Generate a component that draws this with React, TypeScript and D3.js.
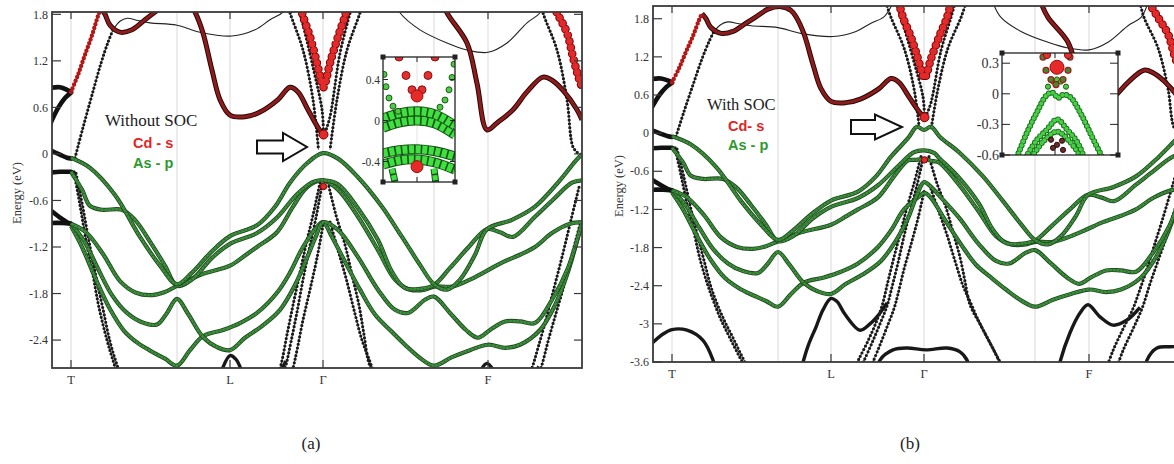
import React from 'react';
import * as d3 from 'd3';

type Pt = [number, number];
type Kind = 'green' | 'dot' | 'thin' | 'red' | 'redDot' | 'redSmall' | 'thick' | 'deep';

// k along the path (arb. units), energies in eV
const kEnd = 5.3;
const symLabels = ['T', 'L', 'Γ', 'F'];
const symK = [0.19, 1.78, 2.71, 4.36];
const gridK = [0.19, 1.25, 1.78, 2.71, 3.82, 4.36];

const ticksA = [1.8, 1.2, 0.6, 0, -0.6, -1.2, -1.8, -2.4];
const ticksB = [1.8, 1.2, 0.6, 0, -0.6, -1.2, -1.8, -2.4, -3, -3.6];

// As-p valence bands
const v1: Pt[] = [[0.19,-0.05],[0.38,-0.18],[0.63,-0.53],[0.88,-1.07],[1.08,-1.44],[1.25,-1.68],[1.40,-1.53],[1.58,-1.28],[1.78,-1.06],[2.05,-0.92],[2.23,-0.68],[2.38,-0.37],[2.55,-0.12],[2.71,0.01],[2.86,-0.06],[3.06,-0.30],[3.30,-0.68],[3.50,-1.07],[3.68,-1.43],[3.82,-1.68],[3.95,-1.75],[4.08,-1.62],[4.23,-1.30],[4.35,-0.97],[4.60,-0.85],[4.83,-0.68],[5.06,-0.37],[5.23,-0.10],[5.30,0.00]];
const v2: Pt[] = [[0.19,-0.23],[0.30,-0.46],[0.38,-0.67],[0.50,-0.72],[0.70,-0.72],[0.83,-0.85],[0.98,-1.13],[1.13,-1.44],[1.25,-1.70],[1.40,-1.62],[1.60,-1.34],[1.78,-1.16],[2.05,-1.02],[2.25,-0.82],[2.45,-0.52],[2.61,-0.36],[2.71,-0.34],[2.86,-0.39],[3.06,-0.70],[3.26,-1.11],[3.40,-1.52],[3.53,-1.73],[3.68,-1.74],[3.82,-1.69],[3.98,-1.47],[4.16,-1.21],[4.35,-0.97],[4.48,-1.01],[4.61,-1.07],[4.83,-0.81],[5.01,-0.59],[5.20,-0.37],[5.30,-0.34]];
const v3: Pt[] = [[0.19,-0.90],[0.34,-1.01],[0.51,-1.29],[0.68,-1.64],[0.84,-1.79],[1.00,-1.82],[1.13,-1.78],[1.25,-1.70],[1.48,-1.56],[1.78,-1.44],[1.93,-1.31],[2.05,-1.20],[2.25,-1.01],[2.41,-0.68],[2.55,-0.43],[2.71,-0.34],[2.86,-0.46],[3.06,-0.81],[3.26,-1.24],[3.43,-1.62],[3.58,-1.75],[3.73,-1.75],[3.82,-1.71],[4.00,-1.71],[4.18,-1.62],[4.33,-1.52],[4.50,-1.40],[4.68,-1.30],[4.83,-1.20],[5.00,-1.02],[5.18,-0.90],[5.30,-0.88]];
const v4: Pt[] = [[0.19,-0.90],[0.32,-1.12],[0.46,-1.48],[0.60,-1.82],[0.75,-2.05],[0.90,-2.17],[1.05,-2.20],[1.15,-2.05],[1.25,-1.87],[1.36,-2.06],[1.51,-2.36],[1.65,-2.49],[1.78,-2.53],[1.93,-2.37],[2.10,-2.22],[2.28,-2.01],[2.43,-1.69],[2.55,-1.34],[2.64,-1.06],[2.71,-0.88],[2.86,-0.98],[3.06,-1.33],[3.26,-1.75],[3.43,-2.01],[3.56,-2.05],[3.73,-1.88],[3.82,-1.84],[3.98,-2.05],[4.14,-2.27],[4.26,-2.37],[4.38,-2.27],[4.53,-2.16],[4.68,-2.16],[4.83,-2.18],[5.00,-1.88],[5.16,-1.47],[5.30,-0.88]];
const v5: Pt[] = [[0.19,-0.93],[0.30,-1.20],[0.44,-1.62],[0.58,-2.00],[0.72,-2.28],[0.86,-2.44],[1.00,-2.55],[1.13,-2.64],[1.25,-2.73],[1.38,-2.53],[1.51,-2.35],[1.71,-2.27],[1.88,-2.18],[2.05,-2.05],[2.25,-1.79],[2.38,-1.53],[2.51,-1.20],[2.65,-0.94],[2.71,-0.88],[2.80,-1.07],[2.93,-1.39],[3.08,-1.75],[3.23,-2.07],[3.38,-2.27],[3.53,-2.46],[3.68,-2.63],[3.82,-2.73],[4.00,-2.62],[4.18,-2.53],[4.36,-2.46],[4.53,-2.50],[4.68,-2.46],[4.88,-2.27],[5.03,-1.95],[5.15,-1.56],[5.24,-1.17],[5.30,-0.88]];

// with SOC: the same bands split near Γ
const v1Soc: Pt[] = [[2.55,-0.08],[2.64,0.10],[2.71,0.05],[2.78,0.10],[2.87,-0.06]];
const v2Soc: Pt[] = [[2.61,-0.30],[2.71,-0.27],[2.81,-0.31]];
const v3Soc: Pt[] = [[2.62,-0.42],[2.71,-0.41],[2.80,-0.44]];
const v4Soc: Pt[] = [[2.64,-0.97],[2.71,-0.77],[2.79,-0.86]];
const v5Soc: Pt[] = [[2.66,-1.00],[2.71,-0.94],[2.77,-1.00]];

// dispersive bands (black dots)
const dt1: Pt[] = [[0.22,-0.23],[0.28,-0.66],[0.34,-1.11],[0.41,-1.56],[0.47,-1.98],[0.55,-2.40],[0.60,-2.62],[0.67,-2.90],[0.74,-3.13],[0.82,-3.38],[0.90,-3.62],[0.95,-3.75]];
const dt2: Pt[] = [[0.24,-0.25],[0.31,-0.70],[0.37,-1.13],[0.44,-1.58],[0.51,-2.00],[0.58,-2.42],[0.65,-2.72],[0.72,-2.97],[0.80,-3.22],[0.88,-3.48],[0.97,-3.75]];
const dt3: Pt[] = [[0.23,-0.05],[0.31,0.34],[0.40,0.76],[0.49,1.17],[0.56,1.44],[0.61,1.60]];
const dt4: Pt[] = [[2.68,-0.37],[2.61,-0.79],[2.54,-1.17],[2.48,-1.53],[2.41,-1.95],[2.35,-2.33],[2.29,-2.72],[2.22,-3.02],[2.14,-3.30],[2.06,-3.55],[2.01,-3.72]];
const dt5: Pt[] = [[2.70,-0.40],[2.64,-0.82],[2.57,-1.24],[2.51,-1.62],[2.45,-2.04],[2.39,-2.42],[2.34,-2.72],[2.27,-3.00],[2.19,-3.30],[2.11,-3.58],[2.07,-3.72]];
const dt6: Pt[] = [[2.71,-0.92],[2.65,-1.34],[2.58,-1.75],[2.51,-2.14],[2.45,-2.53],[2.41,-2.76],[2.34,-3.05],[2.27,-3.33],[2.20,-3.60],[2.17,-3.72]];
const dt7: Pt[] = [[2.76,-0.37],[2.84,-0.79],[2.93,-1.17],[3.00,-1.56],[3.07,-1.95],[3.12,-2.33],[3.17,-2.70],[3.27,-3.00],[3.37,-3.30],[3.47,-3.60],[3.51,-3.72]];
const dt8: Pt[] = [[2.78,-0.88],[2.86,-1.24],[2.94,-1.60],[3.02,-2.01],[3.10,-2.40],[3.18,-2.68],[3.24,-2.90],[3.32,-3.15],[3.42,-3.45],[3.50,-3.72]];
const dt9: Pt[] = [[5.27,-0.43],[5.19,-0.85],[5.10,-1.33],[5.01,-1.78],[4.93,-2.18],[4.86,-2.50],[4.80,-2.76],[4.70,-3.08],[4.60,-3.42],[4.53,-3.72]];
const dt10: Pt[] = [[5.28,-0.91],[5.20,-1.30],[5.13,-1.65],[5.05,-2.01],[4.97,-2.37],[4.89,-2.76],[4.80,-3.08],[4.70,-3.42],[4.63,-3.72]];
const cOutL: Pt[] = [[2.33,2.05],[2.38,1.82],[2.51,1.34],[2.61,0.70],[2.665,0.05]];
const cOutR: Pt[] = [[3.13,2.05],[3.08,1.82],[2.95,1.34],[2.85,0.70],[2.78,0.05]];
const cInL: Pt[] = [[2.43,2.05],[2.48,1.82],[2.61,1.12],[2.70,0.57],[2.715,0.27]];
const cInR: Pt[] = [[3.02,2.05],[2.98,1.82],[2.88,1.30],[2.78,0.48],[2.73,0.27]];
const cEnd: Pt[] = [[4.87,2.05],[4.91,1.82],[5.05,1.34],[5.15,0.70],[5.21,0.09],[5.26,0.01]];

// thin conduction bands
const thin1: Pt[] = [[0.61,1.60],[0.68,1.71],[0.75,1.75],[0.86,1.72],[0.98,1.69],[1.25,1.66],[1.48,1.57],[1.80,1.52],[2.03,1.60],[2.18,1.73],[2.31,1.83],[2.40,2.05]];
const thin2: Pt[] = [[3.40,2.05],[3.48,1.82],[3.68,1.60],[3.95,1.43],[4.15,1.34],[4.36,1.31],[4.55,1.43],[4.75,1.69],[4.88,1.82],[4.95,2.05]];

// Cd-s conduction bands
const redT: Pt[] = [[0.19,0.80],[0.26,1.02],[0.33,1.28],[0.40,1.53],[0.46,1.78],[0.49,1.88]];
const red1: Pt[] = [[0.49,1.88],[0.53,1.80],[0.58,1.66],[0.68,1.57],[0.80,1.60],[0.93,1.73],[1.03,1.83],[1.15,1.95],[1.28,1.99],[1.38,1.93],[1.43,1.83],[1.51,1.56],[1.60,1.08],[1.68,0.70],[1.78,0.50],[1.93,0.48],[2.08,0.54],[2.26,0.70],[2.38,0.86],[2.46,0.80],[2.56,0.57],[2.66,0.34],[2.71,0.25]];
const red2: Pt[] = [[3.88,2.05],[3.95,1.82],[4.15,1.43],[4.25,0.91],[4.35,0.31],[4.45,0.40],[4.61,0.57],[4.75,0.80],[4.91,0.99],[5.00,0.95],[5.11,0.82],[5.25,0.57],[5.30,0.44]];
const redV: Pt[] = [[2.46,2.05],[2.50,1.82],[2.58,1.51],[2.65,1.17],[2.69,0.95],[2.715,0.86],[2.74,0.95],[2.78,1.17],[2.86,1.51],[2.94,1.82],[2.98,2.05]];
const redVEnd: Pt[] = [[4.96,2.05],[5.05,1.82],[5.15,1.56],[5.21,1.25],[5.27,0.97],[5.30,0.86]];
const gammaDots: Pt[] = [[2.715,0.25],[2.715,-0.42]];
const gammaDotR = [4.5, 3.2];

// bands at the panel edge before T
const e1: Pt[] = [[-0.02,0.85],[0.08,0.86],[0.16,0.82],[0.19,0.80]];
const e2: Pt[] = [[-0.02,0.38],[0.06,0.59],[0.13,0.72],[0.19,0.79]];
const e3: Pt[] = [[-0.02,0.05],[0.08,-0.01],[0.15,-0.05],[0.19,-0.06]];
const e4: Pt[] = [[-0.02,-0.24],[0.08,-0.23],[0.15,-0.23],[0.19,-0.23]];
const e5: Pt[] = [[-0.02,-0.72],[0.08,-0.82],[0.15,-0.88],[0.19,-0.90]];
const e6: Pt[] = [[-0.02,-0.89],[0.10,-0.89],[0.19,-0.90]];

// deep bands (visible in the wider energy window)
const deep1: Pt[] = [[-0.02,-3.32],[0.10,-3.16],[0.19,-3.09],[0.34,-3.10],[0.50,-3.26],[0.60,-3.57],[0.63,-3.75]];
const deep2: Pt[] = [[1.48,-3.72],[1.55,-3.35],[1.63,-3.05],[1.70,-2.78],[1.78,-2.60],[1.84,-2.65],[1.92,-2.85],[2.07,-3.10],[2.17,-3.00],[2.26,-2.85],[2.34,-2.67]];
const deep3: Pt[] = [[2.24,-3.75],[2.27,-3.57],[2.40,-3.41],[2.54,-3.38],[2.73,-3.41],[2.94,-3.38],[3.07,-3.44],[3.14,-3.57],[3.17,-3.75]];
const deep4: Pt[] = [[4.05,-3.75],[4.07,-3.60],[4.17,-3.14],[4.27,-2.83],[4.35,-2.70],[4.47,-2.89],[4.60,-3.02],[4.74,-2.94],[4.87,-2.74]];
const deep5: Pt[] = [[4.92,-3.75],[4.94,-3.57],[5.04,-3.38],[5.17,-3.36],[5.32,-3.36]];

const bands: { pts: Pt[]; kind: Kind; soc?: Pt[] }[] = [
  { pts: deep1, kind: 'deep' }, { pts: deep2, kind: 'deep' }, { pts: deep3, kind: 'deep' },
  { pts: deep4, kind: 'deep' }, { pts: deep5, kind: 'deep' },
  { pts: e1, kind: 'thick' }, { pts: e2, kind: 'thick' }, { pts: e3, kind: 'thick' },
  { pts: e4, kind: 'thick' }, { pts: e5, kind: 'thick' }, { pts: e6, kind: 'thick' },
  { pts: thin1, kind: 'thin' }, { pts: thin2, kind: 'thin' },
  { pts: dt1, kind: 'dot' }, { pts: dt2, kind: 'dot' }, { pts: dt3, kind: 'dot' }, { pts: dt4, kind: 'dot' },
  { pts: dt5, kind: 'dot' }, { pts: dt6, kind: 'dot' }, { pts: dt7, kind: 'dot' }, { pts: dt8, kind: 'dot' },
  { pts: dt9, kind: 'dot' }, { pts: dt10, kind: 'dot' },
  { pts: cOutL, kind: 'dot' }, { pts: cOutR, kind: 'dot' }, { pts: cInL, kind: 'dot' },
  { pts: cInR, kind: 'dot' }, { pts: cEnd, kind: 'dot' },
  { pts: red1, kind: 'red' }, { pts: red2, kind: 'red' }, { pts: redT, kind: 'redSmall' },
  { pts: v5, kind: 'green', soc: v5Soc }, { pts: v4, kind: 'green', soc: v4Soc },
  { pts: v3, kind: 'green', soc: v3Soc }, { pts: v2, kind: 'green', soc: v2Soc },
  { pts: v1, kind: 'green', soc: v1Soc },
  { pts: redV, kind: 'redDot' }, { pts: redVEnd, kind: 'redDot' },
];

// insets (zoom around Γ)
const insetTicksA = [0.4, 0, -0.4];
const insetTicksB = [0.3, 0, -0.3, -0.6];
const iaRedV: Pt[] = [[2.62,0.62],[2.655,0.44],[2.685,0.30],[2.735,0.30],[2.765,0.44],[2.80,0.62]];
const iaRedBottom: Pt[] = [[2.71,0.24],[2.71,-0.45]];
const iaGreenL: Pt[] = [[2.545,0.45],[2.555,0.33],[2.57,0.22],[2.59,0.14],[2.615,0.09]];
const iaGreenR: Pt[] = [[2.895,0.55],[2.885,0.42],[2.87,0.30],[2.85,0.20],[2.825,0.13]];
const iaSqU1: Pt[] = [[2.54,0.02],[2.62,0.07],[2.71,0.09],[2.80,0.06],[2.90,-0.05]];
const iaSqU2: Pt[] = [[2.54,-0.07],[2.62,-0.02],[2.71,0.00],[2.80,-0.03],[2.90,-0.14]];
const iaSqL1: Pt[] = [[2.54,-0.32],[2.62,-0.29],[2.71,-0.28],[2.80,-0.30],[2.90,-0.35]];
const iaSqL2: Pt[] = [[2.54,-0.43],[2.62,-0.39],[2.71,-0.38],[2.80,-0.41],[2.90,-0.48]];
const iaTailL: Pt[] = [[2.585,-0.47],[2.60,-0.60]];
const iaTailR: Pt[] = [[2.795,-0.47],[2.805,-0.62]];

const ibRedBig: Pt[] = [[2.72,0.26]];
const ibRedTop: Pt[] = [[2.67,0.38],[2.775,0.38]];
const ibMixL: Pt[] = [[2.65,0.36],[2.665,0.23],[2.69,0.14],[2.715,0.09]];
const ibMixR: Pt[] = [[2.785,0.36],[2.775,0.23],[2.75,0.14]];
const ibTop: Pt[] = [[2.675,0.07],[2.70,0.12],[2.72,0.14],[2.74,0.12],[2.765,0.07]];
const ibV1: Pt[] = [[2.52,-0.62],[2.57,-0.38],[2.62,-0.18],[2.67,-0.01],[2.70,0.01],[2.725,-0.04],[2.75,-0.01],[2.785,-0.03],[2.835,-0.18],[2.885,-0.38],[2.945,-0.62]];
const ibV2: Pt[] = [[2.565,-0.62],[2.62,-0.45],[2.67,-0.35],[2.72,-0.25],[2.77,-0.35],[2.82,-0.47],[2.855,-0.62]];
const ibV3: Pt[] = [[2.595,-0.62],[2.65,-0.47],[2.72,-0.37],[2.785,-0.47],[2.84,-0.62]];
const ibDark: Pt[] = [[2.69,-0.45],[2.70,-0.53],[2.745,-0.46],[2.75,-0.55],[2.72,-0.50]];

const serif = '"Liberation Serif", "Times New Roman", serif';
const sans = '"Liberation Sans", Arial, sans-serif';

const mergeSoc = (pts: Pt[], over?: Pt[]) => {
  if (!over) return pts;
  const lo = over[0][0] - 0.03, hi = over[over.length - 1][0] + 0.03;
  return [...pts.filter(p => p[0] < lo), ...over, ...pts.filter(p => p[0] > hi)];
};

function BandPath({ d, kind }: { d: string; kind: Kind }) {
  const base = { d, fill: 'none', strokeLinejoin: 'round' as const };
  switch (kind) {
    case 'green':
      return (
        <g>
          <path {...base} stroke="#1f461f" strokeWidth={4.2} />
          <path {...base} stroke="#3b923b" strokeWidth={2.5} />
          <path {...base} stroke="#2a5f2a" strokeWidth={1.4} strokeDasharray="0 3.6" strokeLinecap="round" />
        </g>
      );
    case 'dot':
      return (<g><path {...base} stroke="#444" strokeWidth={0.8} /><path {...base} stroke="#1a1a1a" strokeWidth={3.2} strokeDasharray="0 3.8" strokeLinecap="round" /></g>);
    case 'thin':
      return <path {...base} stroke="#222" strokeWidth={1.1} />;
    case 'red':
      return (<g><path {...base} stroke="#2a0808" strokeWidth={5} /><path {...base} stroke="#8e1c1c" strokeWidth={3} /></g>);
    case 'redSmall':
      return (<g><path {...base} stroke="#444" strokeWidth={0.8} /><path {...base} stroke="#b41616" strokeWidth={4.4} strokeDasharray="0 4" strokeLinecap="round" /></g>);
    case 'redDot':
      return (<g><path {...base} stroke="#7a0000" strokeWidth={8.6} strokeDasharray="0 6.4" strokeLinecap="round" /><path {...base} stroke="#e22a2a" strokeWidth={6.6} strokeDasharray="0 6.4" strokeLinecap="round" /></g>);
    case 'thick':
      return <path {...base} stroke="#111" strokeWidth={4.6} strokeLinecap="round" />;
    default:
      return <path {...base} stroke="#181818" strokeWidth={3.4} />;
  }
}

interface InsetCfg {
  x0: number; x1: number; y0: number; y1: number;
  kDom: [number, number]; eDom: [number, number];
  ticks: number[]; fontSize: number; tickLen: number;
}

function Inset({ cfg, variant }: { cfg: InsetCfg; variant: 'a' | 'b' }) {
  const x = d3.scaleLinear().domain(cfg.kDom).range([cfg.x0, cfg.x1]);
  const y = d3.scaleLinear().domain(cfg.eDom).range([cfg.y1, cfg.y0]);
  const line = d3.line<Pt>().x(p => x(p[0])).y(p => y(p[1])).curve(d3.curveCatmullRom.alpha(0.5));
  const clipId = `inset-${variant}`;
  const circles = (pts: Pt[], r: number, fill: string, stroke: string, sw = 1) =>
    pts.map((p, i) => <circle key={i} cx={x(p[0])} cy={y(p[1])} r={r} fill={fill} stroke={stroke} strokeWidth={sw} />);
  const sq = (pts: Pt[], w: number) => (
    <g>
      <path d={line(pts) || ''} fill="none" stroke="#175517" strokeWidth={w + 2} />
      <path d={line(pts) || ''} fill="none" stroke="#3fe03f" strokeWidth={w} strokeDasharray="5 1.6" />
    </g>
  );
  const gdots = (pts: Pt[]) => (
    <g>
      <path d={line(pts) || ''} fill="none" stroke="#1d6a1d" strokeWidth={6} strokeDasharray="0 4.2" strokeLinecap="round" />
      <path d={line(pts) || ''} fill="none" stroke="#45d045" strokeWidth={4.2} strokeDasharray="0 4.2" strokeLinecap="round" />
    </g>
  );
  const corners = [[cfg.x0, cfg.y0], [cfg.x1, cfg.y0], [cfg.x0, cfg.y1], [cfg.x1, cfg.y1]];
  return (
    <g>
      <defs>
        <clipPath id={clipId}><rect x={cfg.x0} y={cfg.y0} width={cfg.x1 - cfg.x0} height={cfg.y1 - cfg.y0} /></clipPath>
      </defs>
      <rect x={cfg.x0} y={cfg.y0} width={cfg.x1 - cfg.x0} height={cfg.y1 - cfg.y0} fill="#fff" />
      <line x1={x(2.71)} x2={x(2.71)} y1={cfg.y0} y2={cfg.y1} stroke="#e2e2e2" strokeWidth={1} />
      <g clipPath={`url(#${clipId})`}>
        {variant === 'a' ? (
          <g>
            {sq(iaSqL2, 8)}{sq(iaSqL1, 8)}{sq(iaSqU2, 8)}{sq(iaSqU1, 8)}
            {sq(iaTailL, 5)}{sq(iaTailR, 5)}
            {circles(iaGreenL, 3, '#4ccc40', '#1d5a1d')}
            {circles(iaGreenR, 3, '#4ccc40', '#1d5a1d')}
            {circles(iaRedV, 4, '#e23030', '#8a1010')}
            {iaRedBottom.map((p, i) => <circle key={i} cx={x(p[0])} cy={y(p[1])} r={6} fill="#e62a2a" stroke="#991111" />)}
          </g>
        ) : (
          <g>
            {gdots(ibV3)}{gdots(ibV2)}{gdots(ibV1)}
            {circles(ibDark, 2.6, '#6b2a2a', '#2a1010')}
            {circles(ibTop, 2.6, '#4ccc40', '#1d5a1d')}
            {circles(ibMixL, 3, '#3f8a2f', '#a81818', 1.2)}
            {circles(ibMixR, 3, '#3f8a2f', '#a81818', 1.2)}
            {circles(ibRedTop, 3.6, '#e23030', '#8a1010')}
            {circles(ibRedBig, 7, '#e62a2a', '#991111')}
          </g>
        )}
      </g>
      <rect x={cfg.x0} y={cfg.y0} width={cfg.x1 - cfg.x0} height={cfg.y1 - cfg.y0} fill="none" stroke="#222" strokeWidth={1.3} />
      {cfg.ticks.map(t => (
        <g key={t}>
          <line x1={cfg.x0} x2={cfg.x0 + cfg.tickLen} y1={y(t)} y2={y(t)} stroke="#222" strokeWidth={1} />
          <line x1={cfg.x1} x2={cfg.x1 - cfg.tickLen} y1={y(t)} y2={y(t)} stroke="#222" strokeWidth={1} />
          <text x={cfg.x0 - 3} y={y(t)} dy="0.35em" textAnchor="end" fontFamily={serif} fontSize={cfg.fontSize} fill="#333">{String(t)}</text>
        </g>
      ))}
      <line x1={x(2.71)} x2={x(2.71)} y1={cfg.y0} y2={cfg.y0 + 5} stroke="#222" />
      <line x1={x(2.71)} x2={x(2.71)} y1={cfg.y1} y2={cfg.y1 - 5} stroke="#222" />
      {corners.map((c, i) => <rect key={i} x={c[0] - 2.5} y={c[1] - 2.5} width={5} height={5} fill="#222" />)}
    </g>
  );
}

interface PanelCfg {
  id: string; left: number; right: number; top: number; bottom: number;
  eMin: number; eMax: number; ticks: number[]; soc: boolean;
  axisTitle: [number, number];
  legend: { title: string; size: number; tx: number; ty: number; cd: string; lx: number; cy: number; ay: number };
  arrow: { x0: number; x1: number; x2: number; cy: number; hs: number; hh: number };
  tag: { text: string; x: number; y: number };
  inset: InsetCfg;
}

function Panel({ cfg }: { cfg: PanelCfg }) {
  const x = d3.scaleLinear().domain([0, kEnd]).range([cfg.left, cfg.right]);
  const y = d3.scaleLinear().domain([cfg.eMin, cfg.eMax]).range([cfg.bottom, cfg.top]);
  const line = d3.line<Pt>().x(p => x(p[0])).y(p => y(p[1])).curve(d3.curveCatmullRom.alpha(0.5));
  const clipId = `clip-${cfg.id}`;
  const a = cfg.arrow;
  const arrowPts = [
    [a.x0, a.cy - a.hs], [a.x1, a.cy - a.hs], [a.x1, a.cy - a.hh], [a.x2, a.cy],
    [a.x1, a.cy + a.hh], [a.x1, a.cy + a.hs], [a.x0, a.cy + a.hs],
  ].map(p => p.join(',')).join(' ');
  const lg = cfg.legend;
  return (
    <g>
      <defs>
        <clipPath id={clipId}>
          <rect x={cfg.left} y={cfg.top} width={cfg.right - cfg.left} height={cfg.bottom - cfg.top} />
        </clipPath>
      </defs>
      {gridK.map(k => (
        <line key={k} x1={x(k)} x2={x(k)} y1={cfg.top} y2={cfg.bottom} stroke="#e0e0e0" strokeWidth={1.2} />
      ))}
      <g clipPath={`url(#${clipId})`}>
        {bands.map((b, i) => {
          const pts = cfg.soc ? mergeSoc(b.pts, b.soc) : b.pts;
          return <BandPath key={i} d={line(pts) || ''} kind={b.kind} />;
        })}
        {gammaDots.map((p, i) => (
          <circle key={i} cx={x(p[0])} cy={y(p[1])} r={gammaDotR[i]} fill="#e22a2a" stroke="#7a0000" strokeWidth={1} />
        ))}
      </g>
      <Inset cfg={cfg.inset} variant={cfg.id as 'a' | 'b'} />
      <rect x={cfg.left} y={cfg.top} width={cfg.right - cfg.left} height={cfg.bottom - cfg.top} fill="none" stroke="#3a3a3a" strokeWidth={1.8} />
      {cfg.ticks.map(t => (
        <g key={t}>
          <line x1={cfg.left} x2={cfg.left + 9} y1={y(t)} y2={y(t)} stroke="#3a3a3a" strokeWidth={1.2} />
          <line x1={cfg.right} x2={cfg.right - 8} y1={y(t)} y2={y(t)} stroke="#3a3a3a" strokeWidth={1.2} />
          <text x={cfg.left - 4} y={y(t)} dy="0.35em" textAnchor="end" fontFamily={serif} fontSize={12} fill="#333">{String(t)}</text>
        </g>
      ))}
      {symK.map((k, i) => (
        <g key={k}>
          <line x1={x(k)} x2={x(k)} y1={cfg.bottom} y2={cfg.bottom - 8} stroke="#3a3a3a" strokeWidth={1.2} />
          <line x1={x(k)} x2={x(k)} y1={cfg.top} y2={cfg.top + 7} stroke="#3a3a3a" strokeWidth={1.2} />
          <text x={x(k)} y={cfg.bottom + 16} textAnchor="middle" fontFamily={serif} fontSize={12.5} fill="#333">{symLabels[i]}</text>
        </g>
      ))}
      <text transform={`translate(${cfg.axisTitle[0]},${cfg.axisTitle[1]}) rotate(-90)`} textAnchor="middle" dy="0.35em"
        fontFamily={serif} fontSize={12.5} fill="#333">Energy (eV)</text>
      <text x={lg.tx} y={lg.ty} fontFamily={serif} fontSize={lg.size} fill="#222">{lg.title}</text>
      <text x={lg.lx} y={lg.cy} fontFamily={sans} fontWeight="bold" fontSize={14.5} fill="#e3231f">{lg.cd}</text>
      <text x={lg.lx} y={lg.ay} fontFamily={sans} fontWeight="bold" fontSize={14.5} fill="#2e9a2e">As - p</text>
      <polygon points={arrowPts} fill="#fff" stroke="#111" strokeWidth={2} strokeLinejoin="miter" />
      <text x={cfg.tag.x} y={cfg.tag.y} textAnchor="middle" fontFamily={serif} fontSize={17} fill="#222">{cfg.tag.text}</text>
    </g>
  );
}

const panelA: PanelCfg = {
  id: 'a', left: 52, right: 582, top: 12, bottom: 368, eMin: -2.76, eMax: 1.83, ticks: ticksA, soc: false,
  axisTitle: [17, 193],
  legend: { title: 'Without SOC', size: 17, tx: 105, ty: 126, cd: 'Cd - s', lx: 133, cy: 148, ay: 168 },
  arrow: { x0: 257, x1: 283, x2: 307, cy: 147, hs: 6.5, hh: 14 },
  tag: { text: '(a)', x: 311, y: 449 },
  inset: { x0: 383, x1: 455, y0: 57, y1: 182, kDom: [2.54, 2.9], eDom: [-0.6, 0.62], ticks: insetTicksA, fontSize: 11.5, tickLen: 5 },
};

const panelB: PanelCfg = {
  id: 'b', left: 653, right: 1183, top: 6, bottom: 362, eMin: -3.6, eMax: 2.0, ticks: ticksB, soc: true,
  axisTitle: [619, 186],
  legend: { title: 'With SOC', size: 16.5, tx: 707, ty: 110, cd: 'Cd- s', lx: 728, cy: 131, ay: 150 },
  arrow: { x0: 851, x1: 875, x2: 902, cy: 127, hs: 7, hh: 12.5 },
  tag: { text: '(b)', x: 910, y: 449 },
  inset: { x0: 1002, x1: 1118, y0: 53, y1: 155, kDom: [2.445, 3.025], eDom: [-0.6, 0.4], ticks: insetTicksB, fontSize: 14, tickLen: 8 },
};

export default function App() {
  return (
    <svg width={1174} height={464} viewBox="0 0 1174 464"
      style={{ position: 'absolute', left: 0, top: 0, background: '#fff' }}>
      <rect x={0} y={0} width={1174} height={464} fill="#fff" />
      <Panel cfg={panelA} />
      <Panel cfg={panelB} />
    </svg>
  );
}
